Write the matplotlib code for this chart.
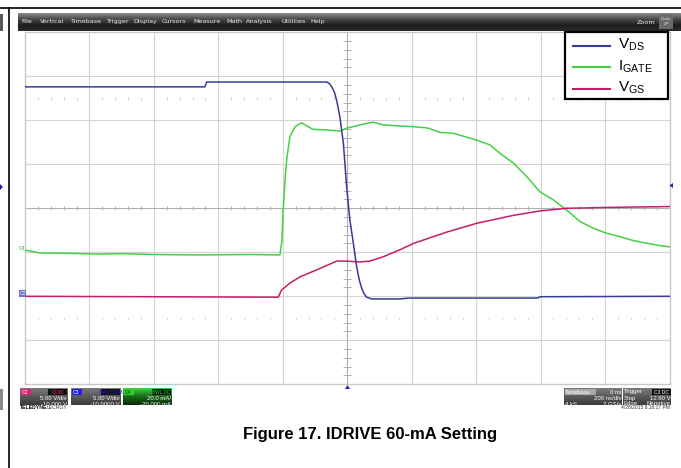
import numpy as np
import matplotlib
matplotlib.use("Agg")
import matplotlib.pyplot as plt
from matplotlib.patches import Rectangle, Polygon
from matplotlib.lines import Line2D
from matplotlib.colors import LinearSegmentedColormap

plt.rcParams['font.family'] = ['Liberation Sans', 'DejaVu Sans']
plt.rcParams['mathtext.default'] = 'regular'

# ---------------- data ----------------
# time axis in ns, 200 ns/div, trigger at 0 ns
t_vds = [-1000, -442, -436, -64, -56, -48, -40, -33, -23, -12, -2, 8, 19, 29,
         37, 45, 52, 60, 76, 120, 164, 190, 400, 590, 600, 1000]
v_ds = [23.8, 23.8, 24.35, 24.35, 24.2, 23.8, 23.2, 22.3, 20.4, 17.4, 12.5, 8.7,
        6.0, 3.4, 1.9, 0.9, 0.3, -0.1, -0.3, -0.3, -0.3, -0.2, -0.2, -0.2, -0.05, 0.0]

t_vgs = [-1000, -214, -204, -178, -147, -95, -33, -2, 39, 70, 112, 164, 205,
         309, 402, 516, 598, 681, 806, 1000]
v_gs = [0.0, -0.1, 0.7, 1.5, 2.2, 3.0, 4.0, 4.0, 3.9, 4.0, 4.5, 5.3, 6.0,
        7.3, 8.3, 9.2, 9.7, 10.0, 10.1, 10.2]

t_ig = [-1000, -954, -860, -768, -700, -600, -457, -300, -209, -203, -199, -193,
        -188, -178, -162, -142, -121, -107, -64, -23, -2, 29, 60, 81, 112, 164,
        205, 250, 288, 329, 402, 443, 474, 516, 557, 598, 640, 681, 723, 764,
        806, 847, 888, 930, 971, 1000]
i_gate = [1.0, -0.3, -0.5, -0.8, -0.6, -1.0, -1.2, -1.0, -1.2, 5.0, 19.2, 33.0,
          42.0, 52.5, 57.1, 58.9, 57.1, 55.9, 55.6, 55.1, 56.4, 57.5, 58.6, 59.1,
          57.9, 57.4, 57.1, 56.5, 54.5, 54.1, 51.0, 48.8, 45.0, 40.5, 34.4, 27.5,
          23.8, 19.2, 13.9, 10.9, 8.6, 7.1, 5.3, 4.1, 3.0, 2.5]

legend_labels = [r'$V_{DS}$', r'$I_{GATE}$', r'$V_{GS}$']
menu_items = ['File', 'Vertical', 'Timebase', 'Trigger', 'Display', 'Cursors',
              'Measure', 'Math', 'Analysis', 'Utilities', 'Help']
caption = 'Figure 17. IDRIVE 60-mA Setting'

# scope settings
VOLT_DIV, VOLT_OFS = 5.0, -10.0
MA_DIV, MA_OFS = 20.0, -20.0
NS_DIV = 200.0

C_VDS = '#3a3a98'
C_IG = '#44d044'
C_VGS = '#c41e6a'

# ---------------- figure ----------------
W, H = 681, 468
fig = plt.figure(figsize=(W / 100, H / 100), dpi=100)
fig.patch.set_facecolor('white')


def fx(x):
    return x / W


def fy(y):
    return 1 - y / H


def rect(x0, y0, x1, y1, **kw):
    r = Rectangle((fx(x0), fy(y1)), (x1 - x0) / W, (y1 - y0) / H,
                  transform=fig.transFigure, **kw)
    fig.patches.append(r)
    return r


def txt(x, y, s, **kw):
    kw.setdefault('va', 'center')
    return fig.text(fx(x), fy(y), s, **kw)


def grad(x0, y0, x1, y1, colors):
    a = fig.add_axes([fx(x0), fy(y1), (x1 - x0) / W, (y1 - y0) / H])
    cm = LinearSegmentedColormap.from_list('g', colors)
    a.imshow(np.linspace(0, 1, 64)[:, None], aspect='auto', cmap=cm,
             extent=[0, 1, 0, 1])
    a.set_axis_off()
    return a


def line(x0, y0, x1, y1, **kw):
    fig.lines.append(Line2D([fx(x0), fx(x1)], [fy(y0), fy(y1)],
                            transform=fig.transFigure, **kw))


# outer frame of the document page
line(0, 8, W, 8, color='black', lw=1.2)
line(9, 8, 9, H, color='black', lw=1.2)
rect(0, 14, 3, 31, color='#5a5a5a', lw=0)
rect(0, 389, 3, 410, color='#8a8a8a', lw=0)
fig.patches.append(Polygon([[fx(0), fy(184)], [fx(3), fy(187)], [fx(0), fy(190)]],
                           closed=True, transform=fig.transFigure,
                           color='#2020a0', lw=0))

# menu bar
grad(18, 13, W, 31, ['#8c8c8c', '#4a4a4a', '#1e1e1e', '#2a2a2a'])
menu_x = [21, 40, 70, 106, 133, 162, 193, 226, 246, 281, 310]
for mx, item in zip(menu_x, menu_items):
    txt(mx, 21.5, item, color='#e8e8e8', fontsize=4.6, ha='left',
        family=['DejaVu Sans'])
txt(655, 22, 'Zoom', color='#e8e8e8', fontsize=4.6, ha='right',
    family=['DejaVu Sans'])
rect(659, 14, 673, 29, color='#6a6a6a', lw=0)
txt(666, 18.5, 'Undo', color='#e0e0e0', fontsize=3, ha='center')
txt(666, 24, '\u21b6', color='#e0e0e0', fontsize=4, ha='center',
    family=['DejaVu Sans'])

# ---------------- waveform grid ----------------
GX0, GX1, GY0, GY1 = 25, 669.5, 32.3, 384.3
ax = fig.add_axes([fx(GX0), fy(GY1), (GX1 - GX0) / W, (GY1 - GY0) / H])
ax.set_xlim(-5 * NS_DIV, 5 * NS_DIV)
ax.set_ylim(-4, 4)
ax.set_xticks([])
ax.set_yticks([])
for s in ax.spines.values():
    s.set_color('#c8c8c8')
    s.set_linewidth(1.0)

gc = '#d4d4d4'
for k in range(-4, 5):
    if k != 0:
        ax.axvline(k * NS_DIV, color=gc, lw=0.8, zorder=1)
for k in range(-3, 4):
    if k != 0:
        ax.axhline(k, color=gc, lw=0.8, zorder=1)
ax.axvline(0, color='#b0b0b0', lw=0.8, zorder=1)
ax.axhline(0, color='#b0b0b0', lw=0.8, zorder=1)
# minor ticks on centre axes and dotted rows
mt = np.arange(-1000, 1001, 40)
mt = mt[mt % 200 != 0]
ax.vlines(mt, -0.05, 0.05, color='#b0b0b0', lw=0.7, zorder=1)
for yr in (2.5, -2.5):
    ax.vlines(mt, yr - 0.03, yr + 0.03, color='#d4d4d4', lw=0.7, zorder=1)
my = np.arange(-4, 4.01, 0.2)
my = my[np.abs(my - np.round(my)) > 1e-6]
ax.hlines(my, -12, 12, color='#b0b0b0', lw=0.7, zorder=1)

# traces (converted to divisions using the scope settings)
ax.plot(t_ig, (np.array(i_gate) + MA_OFS) / MA_DIV, color=C_IG, lw=1.1, zorder=3)
ax.plot(t_vgs, (np.array(v_gs) + VOLT_OFS) / VOLT_DIV, color=C_VGS, lw=1.1, zorder=4)
ax.plot(t_vds, (np.array(v_ds) + VOLT_OFS) / VOLT_DIV, color=C_VDS, lw=1.1, zorder=5)

# channel ground markers on left
txt(19, 249, 'C4', color='#30b030', fontsize=3.6, ha='left')
rect(19, 290, 26, 297, color='#7070c8', lw=0)
txt(19.5, 293.5, 'C2', color='white', fontsize=3.6, ha='left')

# trigger markers
fig.patches.append(Polygon([[fx(347.5), fy(385)], [fx(345), fy(389)], [fx(350), fy(389)]],
                           closed=True, transform=fig.transFigure, color='#2020b0', lw=0))
fig.patches.append(Polygon([[fx(669.5), fy(185.5)], [fx(673), fy(183)], [fx(673), fy(188)]],
                           closed=True, transform=fig.transFigure, color='#2020b0', lw=0))

# ---------------- legend ----------------
rect(564.5, 32, 667.5, 99, facecolor='white', edgecolor='black', lw=1.6, zorder=6)
leg_y = [46, 67.5, 88.5]
for ly, lab, c in zip(leg_y, legend_labels, [C_VDS, C_IG, C_VGS]):
    line(573, ly, 610, ly, color=c, lw=1.5, zorder=7)
    txt(618, ly - 1, lab, fontsize=11, ha='left', color='black', zorder=7)

# ---------------- channel descriptor boxes ----------------
def chan_box(x0, x1, tag, tagc, right_tag, l1, l2, colors, tag_txt='white'):
    grad(x0, 388, x1, 405, colors)
    rect(x0 + 1, 389, x0 + 11, 395, color=tagc, lw=0)
    txt(x0 + 2, 392, tag, color=tag_txt, fontsize=3.6, ha='left')
    rect(x1 - 20, 389, x1 - 1, 395, color='#111111', lw=0)
    txt(x1 - 10.5, 392, right_tag, color=tagc, fontsize=3.4, ha='center')
    txt(x1 - 1, 398.5, l1, color='white', fontsize=4.3, ha='right')
    txt(x1 - 1, 404, l2, color='white', fontsize=4.3, ha='right')


chan_box(20, 68, 'C2', '#e0207a', 'DCIM', '5.00 V/div', '-10.000 V',
         ['#7a7a7a', '#5a5a5a', '#3a3a3a'])
chan_box(71, 121, 'C3', '#2020e0', 'BWL DCIM', '5.00 V/div', '-10.0000 V',
         ['#7a7a7a', '#5a5a5a', '#3a3a3a'])
chan_box(123, 172, 'C4', '#30d030', 'BWL DC', '20.0 mA/', '-20.000 mA',
         ['#40d040', '#1a6a1a', '#0a2a0a'], tag_txt='#0a3a0a')

txt(20, 407.5, 'TELEDYNE', color='black', fontsize=3.7, ha='left',
    fontweight='bold')
txt(46.5, 407.5, 'LECROY', color='#333333', fontsize=3.7, ha='left')

# timebase / trigger boxes
grad(564, 388, 621.5, 405, ['#7a7a7a', '#5a5a5a', '#3a3a3a'])
rect(564.5, 388.5, 596, 395, color='#a8a8a8', lw=0)
txt(565, 392, 'Timebase', color='white', fontsize=4.3, ha='left')
txt(621, 392, '0 ns', color='white', fontsize=4.3, ha='right')
txt(621, 398.5, '200 ns/div', color='white', fontsize=4.3, ha='right')
txt(565, 404, '4 kS', color='white', fontsize=4.3, ha='left')
txt(621, 404, '2 GS/s', color='white', fontsize=4.3, ha='right')

grad(623, 388, 671, 405, ['#7a7a7a', '#5a5a5a', '#3a3a3a'])
txt(624, 392, 'Trigger', color='white', fontsize=4.3, ha='left')
rect(652, 389, 670.5, 395, color='#111111', lw=0)
txt(661, 392, 'C3 DC', color='white', fontsize=3.6, ha='center')
txt(624, 398.5, 'Stop', color='white', fontsize=4.3, ha='left')
txt(670.5, 398.5, '12.60 V', color='white', fontsize=4.3, ha='right')
txt(624, 404, 'Edge', color='white', fontsize=4.3, ha='left')
txt(670.5, 404, 'Negative', color='white', fontsize=4.3, ha='right')
txt(670, 407.5, '4/28/2015 6:16:17 PM', color='#333333', fontsize=3.6, ha='right')

# caption
txt(370, 435, caption, fontsize=12, fontweight='bold', ha='center', color='black')

fig.savefig('out.png', dpi=100)
